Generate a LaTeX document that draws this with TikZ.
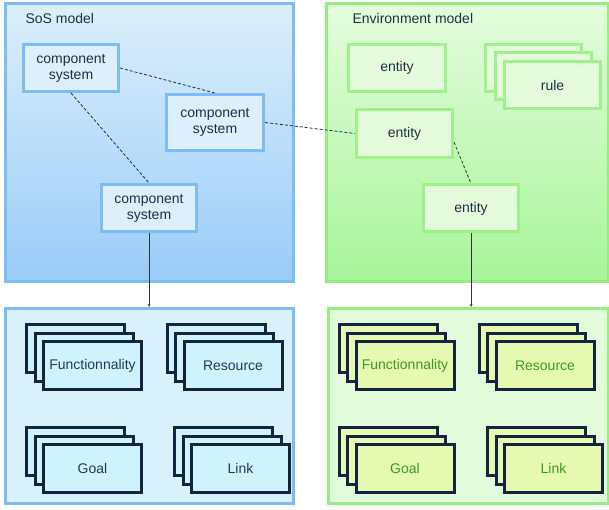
\documentclass[tikz,border=0pt]{standalone}
\usepackage{fontspec}
\setmainfont{Liberation Sans}
\definecolor{sosline}{HTML}{7DBDF2}
\definecolor{sostop}{HTML}{DCEFFB}
\definecolor{sosbottom}{HTML}{99CCF8}
\definecolor{sosfill}{HTML}{D9F1FB}
\definecolor{envline}{HTML}{96EE82}
\definecolor{envtop}{HTML}{E4FCDC}
\definecolor{envbottom}{HTML}{A8F59A}
\definecolor{envfill}{HTML}{E2FBDA}
\definecolor{cardline}{HTML}{14233F}
\definecolor{sosccard}{HTML}{CFF3FB}
\definecolor{envcard}{HTML}{E6F9B0}
\definecolor{sostext}{HTML}{1D3B5C}
\definecolor{envtext}{HTML}{3E9A22}
\definecolor{boxtext}{HTML}{1F3040}

% a pile of three cards: name, x, y, text, style
\newcommand{\cardstack}[5]{%
  \node[#5] (#1c) at (#2-17,#3-17) {};
  \node[#5] (#1b) at (#2-8.5,#3-8.5) {};
  \node[#5] (#1) at (#2,#3) {#4};}

\begin{document}
\begin{tikzpicture}[x=1pt,y=-1pt,
    font=\fontsize{14}{16}\selectfont,
    panel/.style={draw,line width=3pt,inner sep=0pt},
    sysbox/.style={draw=sosline,fill=sostop,line width=3pt,text=boxtext,
      align=center,minimum width=95pt,minimum height=47pt,inner sep=2pt},
    entbox/.style={sysbox,draw=envline!90!white,fill=envtop},
    sosdata/.style={draw=cardline,fill=sosccard,line width=3pt,text=sostext,
      minimum width=98pt,minimum height=48pt,inner sep=2pt},
    envdata/.style={sosdata,fill=envcard,text=envtext},
    link/.style={densely dashed,line width=0.8pt,draw=boxtext},
    feed/.style={-stealth,thin,draw=black!80}]
  \useasboundingbox (0,0) rectangle (609,510);

  % the two models
  \node[panel,draw=sosline,top color=sostop,bottom color=sosbottom,
    minimum width=288pt,minimum height=278pt] (sos) at (149.5,142.5) {};
  \node[panel,draw=envline,top color=envtop,bottom color=envbottom,
    minimum width=282pt,minimum height=278pt] (env) at (467.5,142.5) {};
  \node[anchor=west,text=boxtext] (sostitle) at (22,19) {SoS model};
  \node[anchor=west,text=boxtext] (envtitle) at (349,19) {Environment model};

  % the data below them
  \node[panel,draw=sosline,fill=sosfill,
    minimum width=288pt,minimum height=195pt] (sosbase) at (149.5,406) {};
  \node[panel,draw=envline,fill=envfill,
    minimum width=280pt,minimum height=195pt] (envbase) at (468.5,406) {};

  \node[sysbox] (cs1) at (71,68) {component\\system};
  \node[sysbox,minimum width=97pt,minimum height=56pt] (cs2) at (215,122.5) {component\\system};
  \node[sysbox] (cs3) at (149,208) {component\\system};

  \node[entbox,minimum width=97pt] (e1) at (397,68) {entity};
  \node[entbox,minimum width=96pt,minimum height=48pt] (e2) at (404.5,133.5) {entity};
  \node[entbox] (e3) at (471,208.5) {entity};
  \node[entbox,minimum width=96pt] (rulec) at (533.5,68) {};
  \node[entbox,minimum width=96pt] (ruleb) at (543,76.5) {};
  \node[entbox,minimum width=96pt] (rule) at (552.5,85) {rule};

  \draw[link] (cs1.east) -- (cs2.north);
  \draw[link] (cs1.south) -- (cs3.north);
  \draw[link] (cs2.east) -- (e2.west);
  \draw[link,draw=green!35!black] (e2.-10) -- (e3.north);

  \draw[feed] (cs3.south) -- (cs3.south |- sosbase.north);
  \draw[feed] (e3.south) -- (e3.south |- envbase.north);

  \cardstack{sfun}{92.5}{365.5}{Functionnality}{sosdata}
  \cardstack{sres}{233}{365.5}{Resource}{sosdata}
  \cardstack{sgoal}{92.5}{468.5}{Goal}{sosdata}
  \cardstack{slink}{240.5}{468.5}{Link}{sosdata}

  \cardstack{efun}{405}{365.5}{Functionnality}{envdata}
  \cardstack{eres}{545}{365.5}{Resource}{envdata}
  \cardstack{egoal}{405}{468.5}{Goal}{envdata}
  \cardstack{elink}{553.5}{468.5}{Link}{envdata}
\end{tikzpicture}
\end{document}
